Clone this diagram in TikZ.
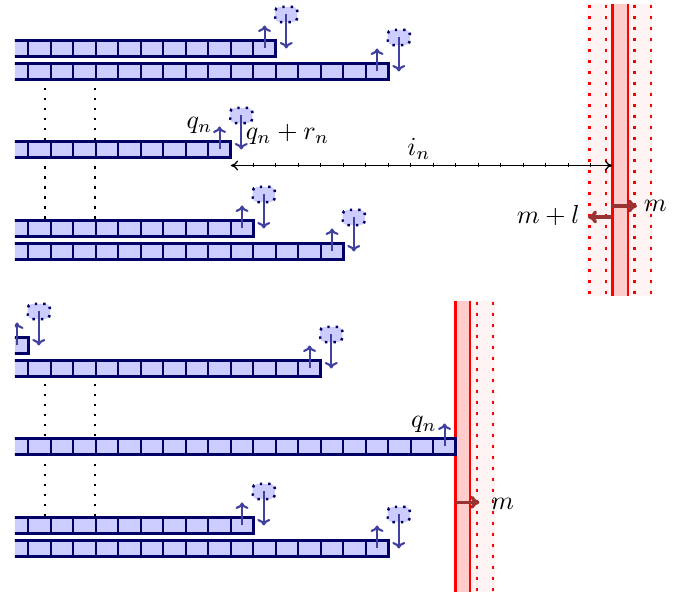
\documentclass[tikz,border=0pt]{standalone}
\usetikzlibrary{arrows.meta,calc}
\definecolor{navy}{RGB}{0,0,102}
\definecolor{cellfill}{RGB}{204,204,255}
\definecolor{polyblue}{RGB}{64,64,160}
\definecolor{memarrow}{RGB}{153,51,51}
\definecolor{faintred}{RGB}{255,244,244}
\definecolor{memfill}{RGB}{255,204,204}
\newcommand\filament[3]{%
  \pgfmathsetmacro\xr{5.8+22.5*#3}%
  \fill[cellfill] (5.8,#2-8) rectangle (\xr,#2+8);
  \foreach \k in {1,...,#3} {\draw[cellline] (5.8+22.5*\k,#2-8) -- (5.8+22.5*\k,#2+8);}
  \draw[barborder] (5.8,#2-8) rectangle (\xr,#2+8);
  \coordinate (#1-end) at (\xr,#2);
  \coordinate (#1-tip) at (\xr-11.25,#2);
  \coordinate (#1-up) at (\xr-11.25,#2-23);
  \coordinate (#1-land) at (\xr+10.5,#2);
  \coordinate (#1-blob) at (\xr+10.5,#2-34);
}
\newcommand\growth[1]{%
  \draw[poly] (#1-tip) -- (#1-up);
  \node[blobnode] (#1-m) at (#1-blob) {};
  \draw[poly] (#1-m.center) -- (#1-land);
}
\begin{document}
\begin{tikzpicture}[x=0.3846pt,y=-0.3846pt,
  cellline/.style={draw=navy,line width=0.7pt},
  barborder/.style={draw=navy,line width=1.25pt},
  poly/.style={draw=polyblue,line width=0.8pt,-{To[length=2.5pt,width=5pt]}},
  blobnode/.style={rectangle,fill=cellfill,draw=navy,line width=0.95pt,dash pattern=on 0.95pt off 2.3pt,rounded corners=1.6pt,minimum width=8.5pt,minimum height=5.8pt,inner sep=0pt},
  vdots/.style={draw=black,line width=1pt,dash pattern=on 1pt off 2.85pt},
  memdots/.style={draw=red,line width=0.9pt,dash pattern=on 1pt off 3.23pt},
  memline/.style={draw=red,line width=1pt},
  memmove/.style={draw=memarrow,line width=1.3pt,-{To[length=3.5pt,width=5pt]}},
  dist/.style={draw=black,line width=0.5pt,{To[length=2.8pt,width=3.8pt]}-{To[length=2.8pt,width=3.8pt]}},
  tick/.style={draw=black,line width=0.5pt},
  lab/.style={inner sep=0pt,anchor=base}]
\useasboundingbox (0,0) rectangle (685,595);
\begin{scope}
\clip (15,0) rectangle (685,595);
% ---------- top panel membrane ----------
\fill[faintred] (587.5,4) rectangle (652.5,296);
\fill[memfill] (612.3,4) rectangle (628,296);
\foreach \x in {589.5,606,634.5,651} {\draw[memdots] (\x,5.5) -- (\x,296);}
\draw[memline] (612.3,4) -- (612.3,296);
\draw[memline] (628,4) -- (628,296);
\coordinate (memT) at (612.3,165.5);
% ---------- bottom panel membrane ----------
\fill[faintred] (470.2,301) rectangle (495,592);
\fill[memfill] (455.5,301) rectangle (470.2,592);
\foreach \x in {477,493.3} {\draw[memdots] (\x,302.5) -- (\x,592);}
\draw[memline] (455.5,301) -- (455.5,592);
\draw[memline] (470.2,301) -- (470.2,592);
% ---------- dotted links ----------
\foreach \x in {45,95} {
  \draw[vdots] (\x,87.7) -- (\x,141);
  \draw[vdots] (\x,166.4) -- (\x,220);
  \draw[vdots] (\x,383.7) -- (\x,438);
  \draw[vdots] (\x,463.7) -- (\x,517);
}
% ---------- top panel filaments ----------
\filament{ta}{48.5}{12}
\filament{tb}{71.5}{17}
\filament{tm}{149.5}{10}
\filament{tc}{228.5}{11}
\filament{td}{251.5}{15}
\growth{ta}\growth{tb}\growth{tm}\growth{tc}\growth{td}
% ---------- bottom panel filaments ----------
\filament{bt}{345.5}{1}
\filament{ba}{368.5}{14}
\filament{bm}{446.5}{20}
\filament{bc}{525.5}{11}
\filament{bd}{548.5}{17}
\growth{bt}\growth{ba}\growth{bc}\growth{bd}
\draw[poly] (bm-tip) -- (bm-up);
% ---------- distance i_n ----------
\coordinate (inL) at ($(tm-end)+(0,16)$);
\draw[dist] (inL) -- (memT);
\foreach \k in {1,...,16} {\draw[tick] (230.8+22.5*\k,163.5) -- (230.8+22.5*\k,167.5);}
% ---------- membrane moves ----------
\coordinate (mTs) at (612.3,206);
\coordinate (mTe) at (637,206);
\coordinate (mlTs) at (612.3,217);
\coordinate (mlTe) at (588,217);
\draw[memmove] (mTs) -- (mTe);
\draw[memmove] (mlTs) -- (mlTe);
\coordinate (mBs) at (455.5,502.3);
\coordinate (mBe) at (479.5,502.3);
\draw[memmove] (mBs) -- (mBe);
% ---------- labels ----------
\node[lab] (qnT) at (199.5,129) {$q_n$};
\node[lab] (qrT) at (287.5,140) {$q_n+r_n$};
\node[lab] (inT) at (419,156) {$i_n$};
\node[lab] (mT) at (655.3,212) {$m$};
\node[lab] (mlT) at (548.3,224) {$m+l$};
\node[lab] (qnB) at (424,427.5) {$q_n$};
\node[lab] (mB) at (502.5,510) {$m$};
\end{scope}
\end{tikzpicture}
\end{document}
